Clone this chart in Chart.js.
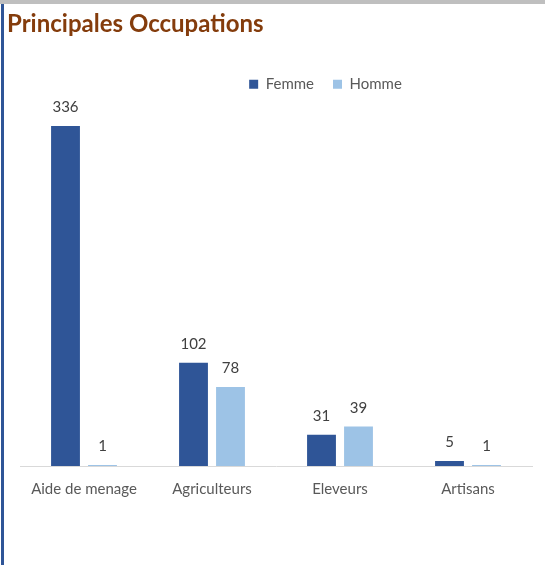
<!DOCTYPE html>
<html>
<head>
<meta charset="utf-8">
<script src="https://cdn.jsdelivr.net/npm/chart.js@4"></script>
<style>
html, body { margin: 0; padding: 0; background: #fff; }
#wrap { position: relative; width: 545px; height: 565px; overflow: hidden; }
#topline { position: absolute; left: 0; top: 0; width: 545px; height: 4px; background: #bfbfbf; }
#leftline { position: absolute; left: 1px; top: 4px; width: 3px; height: 561px; background: #2f5597; }
canvas { position: absolute; left: 0; top: 0; }
</style>
</head>
<body>
<div id="wrap">
    <canvas id="chart" width="545" height="565"></canvas>
    <div id="topline"></div>
    <div id="leftline"></div>
</div>
<script>
"use strict"

var categories = ["Aide de menage", "Agriculteurs", "Eleveurs", "Artisans"];
var femme = [336, 102, 31, 5];
var homme = [1, 78, 39, 1];
var yMax = 360;

//value above each bar
var valueLabels = {
    id: "valueLabels",
    afterDatasetsDraw: function(chart){
        var ctx = chart.ctx;
        ctx.save();
        ctx.font = "15px Lato";
        ctx.fillStyle = "#404040";
        ctx.textAlign = "center";
        ctx.textBaseline = "bottom";
        chart.data.datasets.forEach(function(ds, i){
            var meta = chart.getDatasetMeta(i);
            meta.data.forEach(function(bar, j){
                ctx.fillText(ds.data[j], bar.x, bar.y - 11);
            });
        });
        ctx.restore();
    }
};

//legend sits right of center in the original
var legendShift = {
    id: "legendShift",
    afterLayout: function(chart){
        chart.legend.left += 56;
        chart.legend.right += 56;
    }
};

var chart = new Chart(document.getElementById("chart"), {
    type: "bar",
    data: {
        labels: categories,
        datasets: [{
            label: "Femme",
            data: femme,
            backgroundColor: "#2f5597",
            categoryPercentage: 0.578,
            barPercentage: 0.78
        }, {
            label: "Homme",
            data: homme,
            backgroundColor: "#9dc3e6",
            categoryPercentage: 0.578,
            barPercentage: 0.78
        }]
    },
    options: {
        responsive: false,
        animation: false,
        layout: {
            padding: {left: 7, right: 13, top: 0, bottom: 53}
        },
        plugins: {
            title: {
                display: true,
                text: "Principales Occupations",
                align: "start",
                color: "#843c0c",
                font: {family: "Lato", size: 24, weight: "bold"},
                padding: {top: 10, bottom: 19}
            },
            legend: {
                position: "top",
                labels: {
                    boxWidth: 9,
                    boxHeight: 9,
                    padding: 19,
                    color: "#595959",
                    font: {family: "Lato", size: 15}
                }
            },
            tooltip: {enabled: false}
        },
        scales: {
            x: {
                grid: {display: false, drawTicks: false},
                border: {display: true, color: "#d9d9d9"},
                ticks: {color: "#595959", padding: 14, font: {family: "Lato", size: 15}}
            },
            y: {
                min: 0,
                max: yMax,
                grid: {display: false, drawTicks: false},
                border: {display: false},
                ticks: {display: false},
                afterFit: function(scale){
                    scale.width = 13;
                }
            }
        }
    },
    plugins: [valueLabels, legendShift]
});
</script>
</body>
</html>
